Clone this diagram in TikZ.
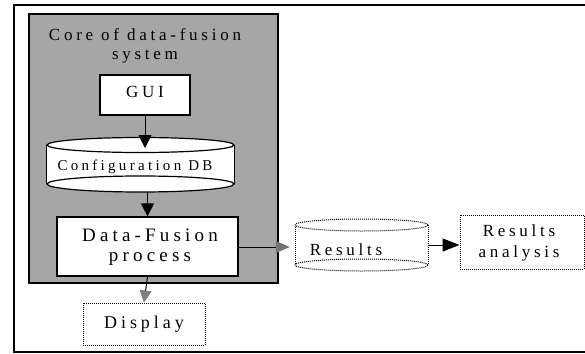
\documentclass[tikz,border=0pt]{standalone}
\usepackage{fontspec}
\setmainfont{Liberation Serif}
\newfontfamily\wide[LetterSpace=22]{Liberation Serif}
\usetikzlibrary{arrows.meta}

\tikzset{
  box/.style={draw, line width=1.2pt, fill=white, inner sep=0pt},
  dotbox/.style={draw, densely dotted, line width=1pt, fill=white, inner sep=0pt},
  ghost/.style={inner sep=0pt},
  flow/.style={line width=1pt, -{Triangle[length=13pt,width=13pt]}},
  lbl/.style={inner sep=0pt, align=center},
}

\begin{document}
\begin{tikzpicture}[x=1pt,y=-1pt]
\path[use as bounding box] (0,0) rectangle (585,353);

% outer frame, open to the right
\draw[line width=1.4pt] (586,5) -- (14,5) -- (14,352) -- (586,352);

% shaded core region
\node[draw, line width=1.3pt, fill=black!35, inner sep=0pt, minimum width=249pt, minimum height=269pt] (core) at (153.5,148.5) {};
\node[lbl, font=\wide\fontsize{17}{19}\selectfont] (title) at (145,45.5) {Core of data-fusion\\system};

% GUI
\node[box, minimum width=90pt, minimum height=40pt, text height=11pt, text depth=7pt, font=\wide\fontsize{17}{19}\selectfont] (gui) at (145,95) {GUI\hspace{14pt}};

% configuration database (cylinder)
\node[ghost, minimum width=187pt, minimum height=55pt] (cfg) at (140.5,165) {};
\fill[white] (cfg.west |- 0,145) -- (cfg.east |- 0,145) -- (cfg.east |- 0,184) -- (cfg.west |- 0,184) -- cycle;
\draw[line width=1.2pt, fill=white] (140.5,184) ellipse [x radius=93.5pt, y radius=8pt];
\draw[line width=1.2pt] (cfg.west |- 0,145) -- (cfg.west |- 0,184) (cfg.east |- 0,145) -- (cfg.east |- 0,184);
\draw[line width=1.2pt, fill=white] (140.5,145) ellipse [x radius=93.5pt, y radius=7.5pt];
\node[lbl, font=\wide\fontsize{15}{17}\selectfont] (cfgtxt) at (135,167) {Configuration DB};

% data-fusion process
\node[box, minimum width=181pt, minimum height=59pt] (df) at (147.5,246.5) {};
\node[lbl, font=\wide\fontsize{19}{20}\selectfont] (dftxt) at (150,247.6) {Data-Fusion\\process};

% display
\node[dotbox, minimum width=122pt, minimum height=42pt, font=\wide\fontsize{18}{20}\selectfont] (disp) at (144,324) {Display\hspace{6pt}};

% results database (cylinder)
\node[ghost, minimum width=133pt, minimum height=54pt] (res) at (361.5,245) {};
\fill[white] (295,225) rectangle (428,265);
\draw[densely dotted, line width=1pt, fill=white] (361.5,265) ellipse [x radius=66.5pt, y radius=6pt];
\draw[densely dotted, line width=1pt] (295,225) -- (295,265) (428,225) -- (428,265);
\draw[densely dotted, line width=1pt, fill=white] (361.5,225) ellipse [x radius=66.5pt, y radius=6pt];
\node[lbl, font=\wide\fontsize{17}{19}\selectfont] (restxt) at (346,250) {Results};

% results analysis
\node[dotbox, minimum width=124pt, minimum height=54pt] (ana) at (522,242) {};
\node[lbl, font=\wide\fontsize{17}{21}\selectfont] (anatxt) at (519,243) {Results\\analysis};

% connectors
\coordinate (cfgtop) at (140.5,148);
\coordinate (cfgbot) at (140.5,192);
\draw[flow] (gui.south) -- (gui.south |- cfgtop);
\draw[flow] (df.north |- cfgbot) -- (df.north);
\draw[flow, -{Triangle[length=12pt,width=12pt,color=black!50]}] (df.south) -- (disp.north);
\draw[flow, -{Triangle[length=14pt,width=12pt,color=black!55]}, shorten >=5pt] (df.east |- 0,247) -- (res.west |- 0,247);
\draw[flow, -{Triangle[length=17pt,width=13pt]}] (res.east |- 0,245) -- (ana.west |- 0,245);
\end{tikzpicture}
\end{document}
